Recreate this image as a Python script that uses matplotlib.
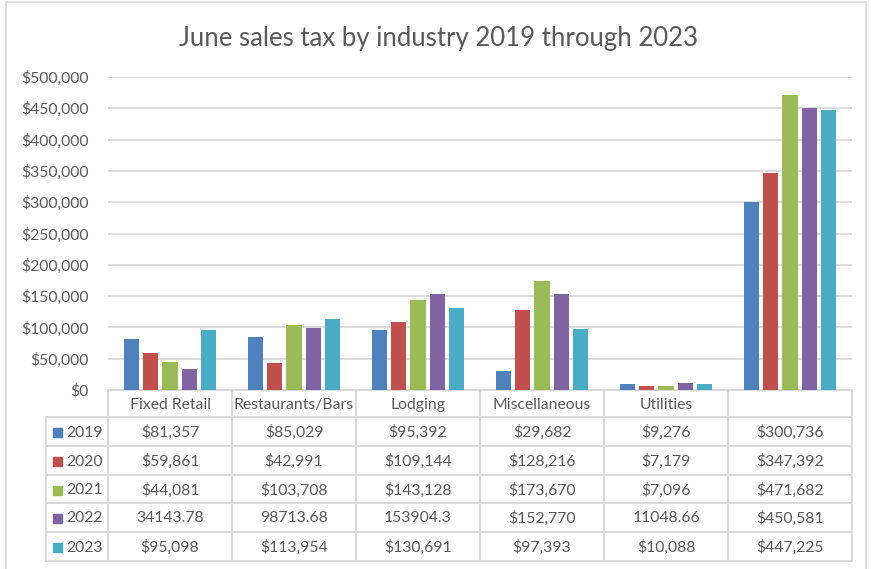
import numpy as np
import matplotlib
matplotlib.use("Agg")
import matplotlib.pyplot as plt
from matplotlib.patches import Rectangle

plt.rcParams['font.family'] = ['Lato', 'DejaVu Sans']

title = "June sales tax by industry 2019 through 2023"
industries = ["Fixed Retail", "Restaurants/Bars", "Lodging", "Miscellaneous", "Utilities", ""]
years = ["2019", "2020", "2021", "2022", "2023"]
colors = ["#4F81BD", "#C0504D", "#9BBB59", "#8064A2", "#4BACC6"]

tax_2019 = [81357, 85029, 95392, 29682, 9276, 300736]
tax_2020 = [59861, 42991, 109144, 128216, 7179, 347392]
tax_2021 = [44081, 103708, 143128, 173670, 7096, 471682]
tax_2022 = [34143.78, 98713.68, 153904.3, 152770, 11048.66, 450581]
tax_2023 = [95098, 113954, 130691, 97393, 10088, 447225]

# cell text as it is shown in the data table
labels_2019 = ["$81,357", "$85,029", "$95,392", "$29,682", "$9,276", "$300,736"]
labels_2020 = ["$59,861", "$42,991", "$109,144", "$128,216", "$7,179", "$347,392"]
labels_2021 = ["$44,081", "$103,708", "$143,128", "$173,670", "$7,096", "$471,682"]
labels_2022 = ["34143.78", "98713.68", "153904.3", "$152,770", "11048.66", "$450,581"]
labels_2023 = ["$95,098", "$113,954", "$130,691", "$97,393", "$10,088", "$447,225"]

series = [tax_2019, tax_2020, tax_2021, tax_2022, tax_2023]
table_rows = [labels_2019, labels_2020, labels_2021, labels_2022, labels_2023]

W, H = 871, 569
txt = "#595959"
grid = "#D9D9D9"
fs = 11.3

fig = plt.figure(figsize=(W / 100, H / 100), dpi=100)

# pixel-space overlay for the frame, title and data table
ov = fig.add_axes([0, 0, 1, 1])
ov.set_xlim(0, W)
ov.set_ylim(H, 0)
ov.axis("off")
ov.add_patch(Rectangle((6, 2), 860, 600, fill=False, ec=grid, lw=1.2))
ov.text(438, 38, title, ha="center", va="center", fontsize=18.5, color=txt)

# bar plot area
x0, x1, ytop, ybot = 108, 852, 77, 390
ax = fig.add_axes([x0 / W, 1 - ybot / H, (x1 - x0) / W, (ybot - ytop) / H])
x = np.arange(len(industries))
step = 0.156
width = 0.121
for i, (vals, c) in enumerate(zip(series, colors)):
    ax.bar(x + (i - 2) * step, vals, width, color=c, zorder=3)
ax.set_xlim(-0.5, len(industries) - 0.5)
ax.set_ylim(0, 500000)
ax.set_yticks(np.arange(0, 500001, 50000))
ax.set_yticklabels([f"${v:,.0f}" for v in np.arange(0, 500001, 50000)])
ax.tick_params(axis="y", length=0, pad=14, labelsize=fs, labelcolor=txt)
ax.set_xticks([])
ax.grid(axis="y", color=grid, lw=1.3, zorder=0)
for s in ax.spines.values():
    s.set_visible(False)
ax.patch.set_alpha(0)

# data table under the bars
col_w = (x1 - x0) / len(industries)
row_tops = [390, 417, 446, 475, 503, 532, 561]
leg_x = 46
lw = 1.4
ov.plot([x0, x1], [row_tops[0], row_tops[0]], color=grid, lw=lw)
for yy in row_tops[1:]:
    ov.plot([leg_x, x1], [yy, yy], color=grid, lw=lw)
ov.plot([leg_x, leg_x], [row_tops[1], row_tops[-1]], color=grid, lw=lw)
for k in range(len(industries) + 1):
    xx = x0 + k * col_w
    ov.plot([xx, xx], [row_tops[0], row_tops[-1]], color=grid, lw=lw)

for k, name in enumerate(industries):
    ov.text(x0 + (k + 0.5) * col_w, (row_tops[0] + row_tops[1]) / 2 + 1, name,
            ha="center", va="center", fontsize=fs, color=txt)
for r, (yr, c, cells) in enumerate(zip(years, colors, table_rows)):
    yc = (row_tops[r + 1] + row_tops[r + 2]) / 2 + 1
    ov.add_patch(Rectangle((53, yc - 4.5), 9, 9, color=c))
    ov.text(66, yc, yr, ha="left", va="center", fontsize=fs, color=txt)
    for k, cell in enumerate(cells):
        ov.text(x0 + (k + 0.5) * col_w, yc, cell, ha="center", va="center",
                fontsize=fs, color=txt)

fig.savefig("out.png", dpi=100)
